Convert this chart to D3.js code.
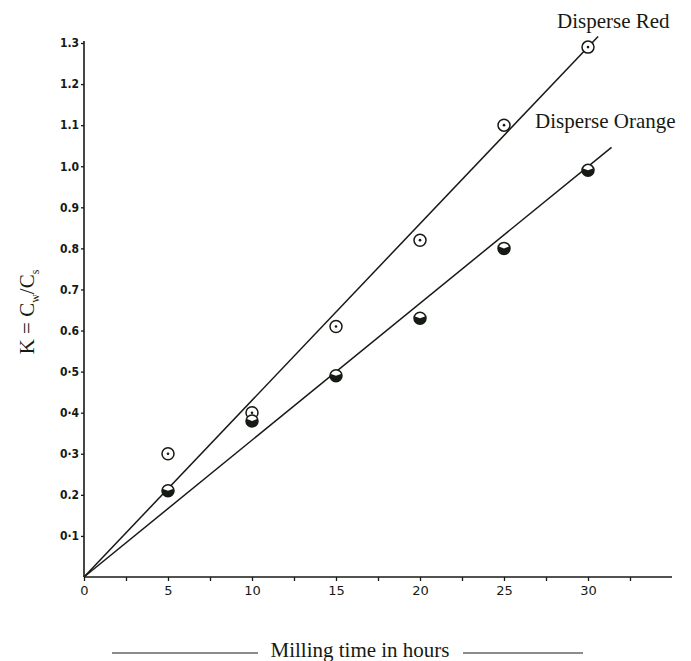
<!DOCTYPE html>
<html>
<head>
<meta charset="utf-8">
<script src="https://cdn.jsdelivr.net/npm/d3@7"></script>
<style>
  body { margin: 0; background: #fff; }
  svg { display: block; }
</style>
</head>
<body>
<div id="chart"></div>
<script>
// data
var hours = [5, 10, 15, 20, 25, 30];
var redK = [0.30, 0.40, 0.61, 0.82, 1.10, 1.29];
var orangeK = [0.21, 0.38, 0.49, 0.63, 0.80, 0.99];
// fitted lines (through origin)
var redLine = [[0, 0], [30.6, 1.316]];
var orangeLine = [[0, 0], [31.4, 1.046]];
var xTicks = [0, 5, 10, 15, 20, 25, 30];
var yTicks = [0.1, 0.2, 0.3, 0.4, 0.5, 0.6, 0.7, 0.8, 0.9, 1.0, 1.1, 1.2, 1.3];
var yTickLabels = ["0·1", "0.2", "0·3", "0·4", "0·5", "0.6", "0.7", "0.8", "0.9", "1.0", "1.1", "1.2", "1.3"];

var width = 691, height = 661;
var ink = "#161a14";

var svg = d3.select("#chart")
  .append("svg")
    .attr("width", width)
    .attr("height", height);

// scales
var x = d3.scaleLinear().domain([0, 35]).range([84, 672]);
var y = d3.scaleLinear().domain([0, 1.3]).range([577, 43]);

// axes
var xAxis = d3.axisBottom(x)
  .tickValues(d3.range(0, 35, 2.5))
  .tickSize(4)
  .tickFormat(function (d) { return xTicks.indexOf(d) >= 0 ? d : ""; });
var gx = svg.append("g")
  .attr("transform", "translate(0," + y(0) + ")")
  .call(xAxis);
gx.select(".domain").attr("d", "M" + x(0) + ",0H" + x(35)).attr("stroke", ink).attr("stroke-width", 1.6);
gx.selectAll(".tick line").attr("stroke", ink).attr("stroke-width", 1.3);
gx.selectAll(".tick text")
  .attr("fill", ink)
  .attr("dy", "0.85em")
  .style("font-family", "'DejaVu Sans', sans-serif")
  .style("font-size", "13px");

var yAxis = d3.axisLeft(y)
  .tickValues(yTicks)
  .tickSize(3)
  .tickFormat(function (d, i) { return yTickLabels[i]; });
var gy = svg.append("g")
  .attr("transform", "translate(" + x(0) + ",0)")
  .call(yAxis);
gy.select(".domain").attr("d", "M0," + y(0) + "V" + (y(1.3) - 2)).attr("stroke", ink).attr("stroke-width", 1.6);
gy.selectAll(".tick line").attr("stroke", ink).attr("stroke-width", 1.3);
gy.selectAll(".tick text")
  .attr("fill", ink)
  .attr("x", -5)
  .style("font-family", "'DejaVu Sans Condensed', 'DejaVu Sans', sans-serif")
  .style("font-weight", "bold")
  .style("font-size", "12px");

// fitted lines
var line = d3.line()
  .x(function (d) { return x(d[0]); })
  .y(function (d) { return y(d[1]); });
[redLine, orangeLine].forEach(function (pts) {
  svg.append("path")
    .attr("d", line(pts))
    .attr("fill", "none")
    .attr("stroke", ink)
    .attr("stroke-width", 1.5);
});

// Disperse Red: open circle with a centre dot
var red = svg.append("g").selectAll("g")
  .data(hours.map(function (h, i) { return [h, redK[i]]; }))
  .enter().append("g")
    .attr("transform", function (d) { return "translate(" + x(d[0]) + "," + y(d[1]) + ")"; });
red.append("circle").attr("r", 6).attr("fill", "#fff").attr("stroke", ink).attr("stroke-width", 1.5);
red.append("circle").attr("r", 1.3).attr("fill", ink);

// Disperse Orange: circle with the lower half filled
var orange = svg.append("g").selectAll("g")
  .data(hours.map(function (h, i) { return [h, orangeK[i]]; }))
  .enter().append("g")
    .attr("transform", function (d) { return "translate(" + x(d[0]) + "," + y(d[1]) + ")"; });
orange.append("circle").attr("r", 6).attr("fill", "#fff").attr("stroke", ink).attr("stroke-width", 1.5);
orange.append("path")
  .attr("d", d3.arc()({innerRadius: 0, outerRadius: 6, startAngle: Math.PI / 2 - 0.35, endAngle: 3 * Math.PI / 2 + 0.35}))
  .attr("fill", ink);

// series labels
var serif = "'Liberation Serif', 'DejaVu Serif', serif";
svg.append("text")
  .attr("x", 557).attr("y", 28)
  .attr("fill", ink)
  .style("font-family", serif).style("font-size", "21px")
  .text("Disperse Red");
svg.append("text")
  .attr("x", 535).attr("y", 128)
  .attr("fill", ink)
  .style("font-family", serif).style("font-size", "21px")
  .text("Disperse Orange");

// x axis title with rules on each side
svg.append("text")
  .attr("x", 360).attr("y", 657)
  .attr("text-anchor", "middle")
  .attr("fill", ink)
  .style("font-family", serif).style("font-size", "21px")
  .text("Milling time in hours");
svg.append("line").attr("x1", 112).attr("x2", 258).attr("y1", 653).attr("y2", 653).attr("stroke", ink).attr("stroke-width", 1);
svg.append("line").attr("x1", 463).attr("x2", 583).attr("y1", 653).attr("y2", 653).attr("stroke", ink).attr("stroke-width", 1);

// y axis title
var yt = svg.append("text")
  .attr("transform", "translate(34,312) rotate(-90)")
  .attr("text-anchor", "middle")
  .attr("fill", ink)
  .style("font-family", serif).style("font-size", "21px");
yt.append("tspan").text("K = C");
yt.append("tspan").attr("dy", 5).style("font-size", "12px").text("w");
yt.append("tspan").attr("dy", -5).text("/C");
yt.append("tspan").attr("dy", 5).style("font-size", "12px").text("s");
</script>
</body>
</html>
